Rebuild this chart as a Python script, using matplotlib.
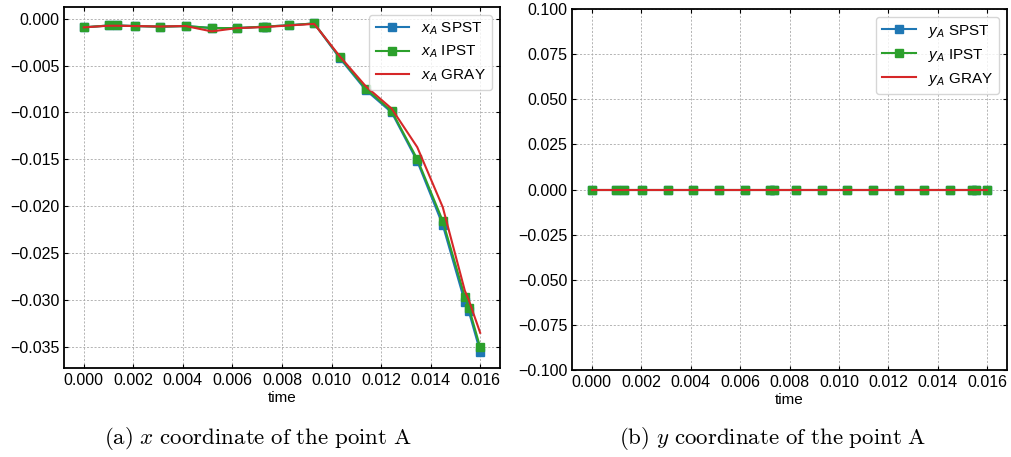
import matplotlib
matplotlib.use('Agg')
import matplotlib.pyplot as plt

# sample times (s)
time = [0.0, 0.00100, 0.00132, 0.00205, 0.00308, 0.00411, 0.00516, 0.00618, 0.00723, 0.00737,
        0.00827, 0.00930, 0.01033, 0.01138, 0.01243, 0.01346, 0.01449, 0.01538, 0.01554, 0.01600]

# x coordinate of point A
xa_spst = [-0.00092, -0.00072, -0.00072, -0.00078, -0.00085, -0.00078, -0.00099, -0.00100, -0.00085, -0.00083,
           -0.00070, -0.00050, -0.00420, -0.00760, -0.01000, -0.01520, -0.02200, -0.03020, -0.03120, -0.03550]
xa_ipst = [-0.00092, -0.00072, -0.00072, -0.00078, -0.00085, -0.00078, -0.00099, -0.00100, -0.00085, -0.00083,
           -0.00070, -0.00050, -0.00410, -0.00745, -0.00986, -0.01497, -0.02157, -0.02965, -0.03080, -0.03504]
xa_gray = [-0.00092, -0.00075, -0.00075, -0.00078, -0.00083, -0.00078, -0.00135, -0.00100, -0.00090, -0.00088,
           -0.00072, -0.00055, -0.00400, -0.00720, -0.00960, -0.01370, -0.02010, -0.02900, -0.03000, -0.03350]

# y coordinate of point A (stays on the axis)
ya_spst = [0.0] * 20
ya_ipst = [0.0] * 20
ya_gray = [0.0] * 20

plt.rcParams['font.family'] = ['Liberation Sans', 'DejaVu Sans']
plt.rcParams['mathtext.fontset'] = 'custom'
plt.rcParams['mathtext.rm'] = 'Liberation Sans'
plt.rcParams['mathtext.it'] = 'Liberation Sans:italic'
plt.rcParams['font.size'] = 11
plt.rcParams['xtick.labelsize'] = 11.5
plt.rcParams['ytick.labelsize'] = 11.5
plt.rcParams['xtick.direction'] = 'in'
plt.rcParams['ytick.direction'] = 'in'
plt.rcParams['xtick.top'] = True
plt.rcParams['ytick.right'] = True
plt.rcParams['xtick.major.size'] = 3
plt.rcParams['ytick.major.size'] = 3
plt.rcParams['axes.linewidth'] = 1.3

fig = plt.figure(figsize=(10.11, 4.57), dpi=100)
W, H = 1011, 457
ax1 = fig.add_axes([64 / W, 1 - 368 / H, 436 / W, 361 / H])
ax2 = fig.add_axes([572 / W, 1 - 370 / H, 435 / W, 361 / H])


def draw(ax, spst, ipst, gray, name):
    ax.plot(time, spst, '-s', color='tab:blue', lw=1.5, ms=6.3, label=f'${name}$ SPST')
    ax.plot(time, ipst, '-s', color='tab:green', lw=1.5, ms=6.3, label=f'${name}$ IPST')
    ax.plot(time, gray, '-', color='tab:red', lw=1.5, label=f'${name}$ GRAY')
    ax.set_xticks([0.000, 0.002, 0.004, 0.006, 0.008, 0.010, 0.012, 0.014, 0.016])
    ax.set_xlabel('time', labelpad=2)
    ax.grid(True, linestyle=(0, (2.5, 2)), color='#a8a8a8', linewidth=0.6)
    ax.legend(loc='upper right', fontsize=11, handlelength=2.2, borderpad=0.4, labelspacing=0.45)


draw(ax1, xa_spst, xa_ipst, xa_gray, 'x_A')
draw(ax2, ya_spst, ya_ipst, ya_gray, 'y_A')
ax2.set_ylim(-0.1, 0.1)
ax2.set_yticks([-0.100, -0.075, -0.050, -0.025, 0.000, 0.025, 0.050, 0.075, 0.100])

fig.text(258 / W, 1 - 438 / H, r'$\mathrm{(a)}\ x\ \mathrm{coordinate\ of\ the\ point\ A}$',
         ha='center', va='center', fontsize=16.5, math_fontfamily='cm')
fig.text(773 / W, 1 - 438 / H, r'$\mathrm{(b)}\ y\ \mathrm{coordinate\ of\ the\ point\ A}$',
         ha='center', va='center', fontsize=16.5, math_fontfamily='cm')

fig.savefig('out.png', dpi=100)
